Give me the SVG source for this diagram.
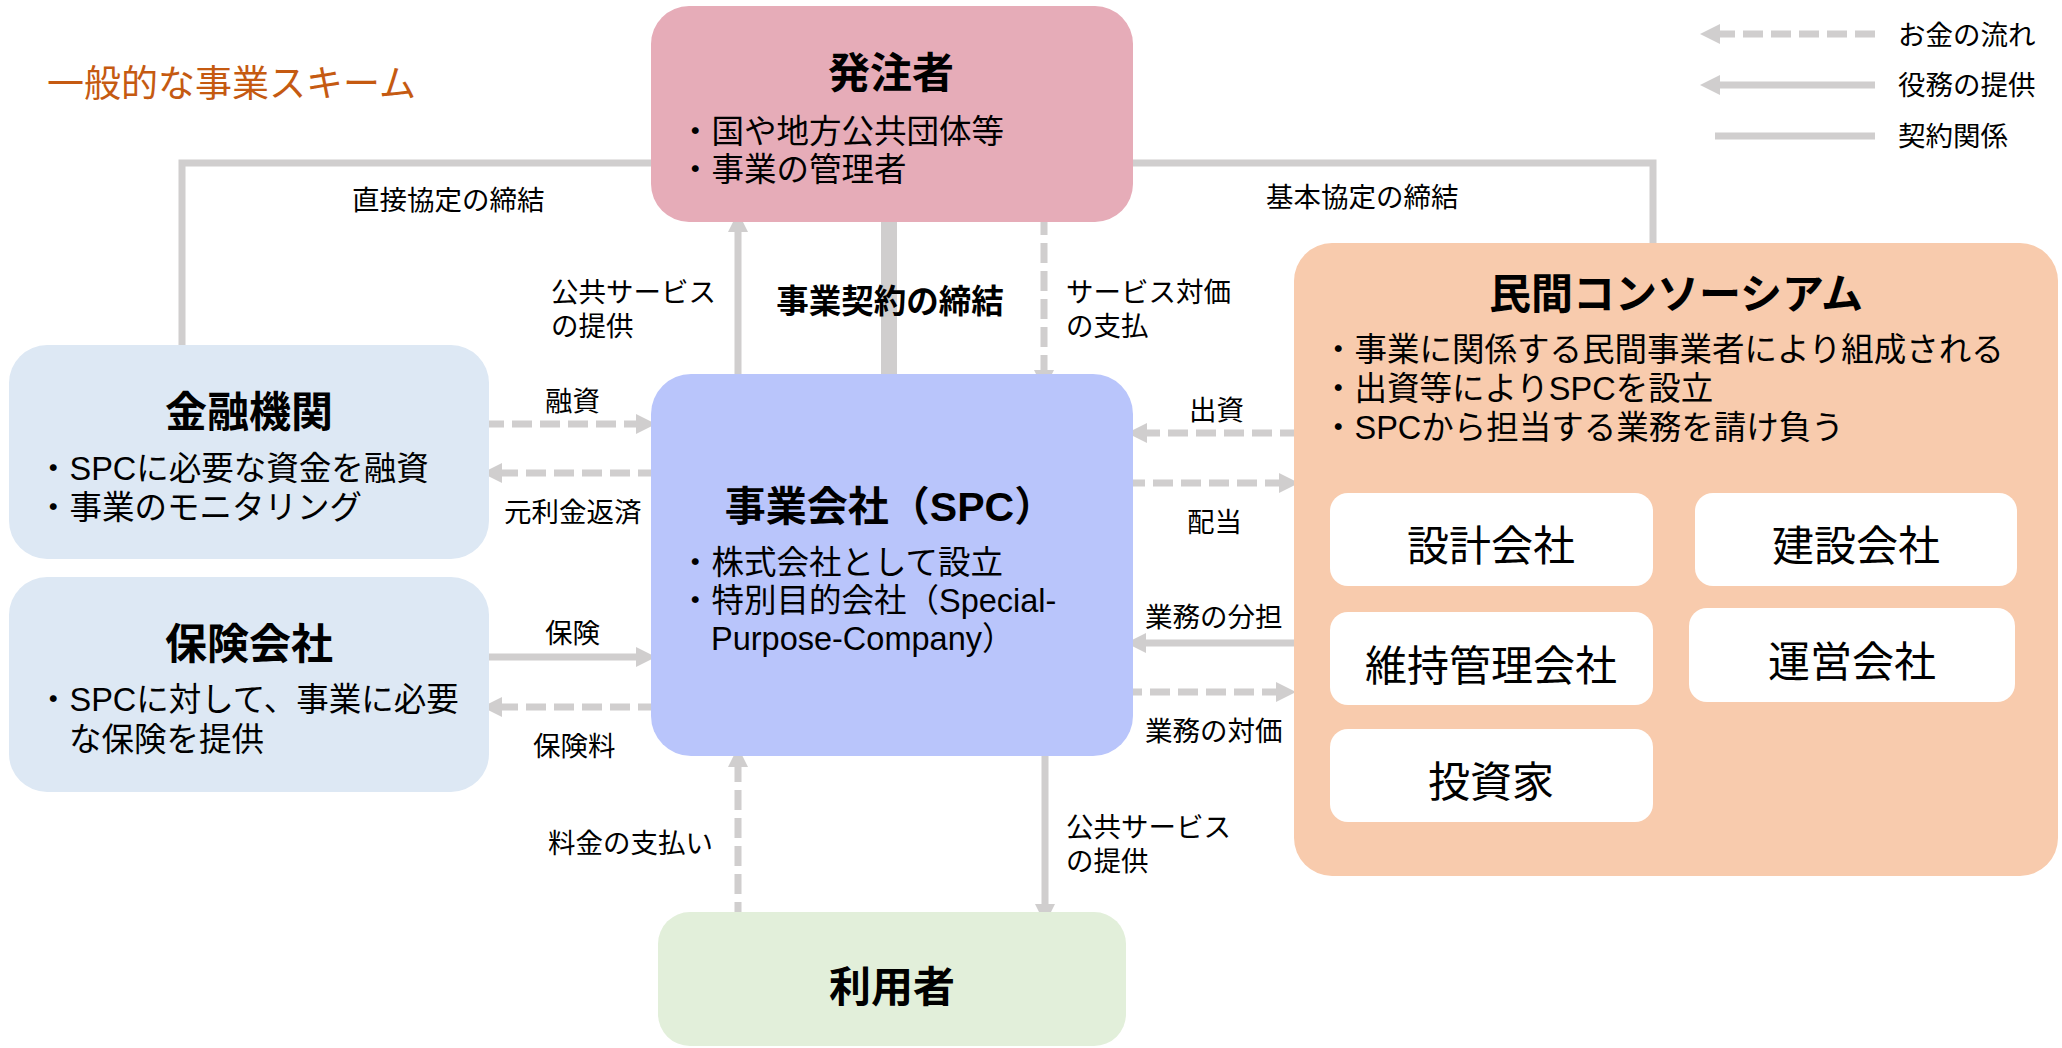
<svg xmlns="http://www.w3.org/2000/svg" width="2062" height="1048" viewBox="0 0 2062 1048">
<style>
text{font-family:"Liberation Sans","Noto Sans CJK JP",sans-serif;fill:#000}
.lbl{font-size:27.5px}
.ttl{font-size:42px;font-weight:bold;text-anchor:middle}
.bul{font-size:32.5px}
.sub{font-size:42px;text-anchor:middle}
.c{fill:none;stroke:#D0CECE;stroke-width:7}
.d{stroke-dasharray:20 8}
.sub-box{fill:#FFFFFF}
</style>
<defs>
<marker id="ah" markerUnits="userSpaceOnUse" markerWidth="20" markerHeight="20" viewBox="0 0 20 20" refX="10" refY="10" orient="auto">
<path d="M0,0 L20,10 L0,20 Z" fill="#D0CECE"/>
</marker>
</defs>
<rect width="2062" height="1048" fill="#FFFFFF"/>

<g id="title"><text x="47" y="97" style="font-size:37px;fill:#C55A11">一般的な事業スキーム</text></g>

<g id="connectors">
<polyline class="c" points="657,163 182,163 182,345"/>
<polyline class="c" points="1122,163 1653,163 1653,247"/>
<line x1="889" y1="212" x2="889" y2="388" stroke="#D0CECE" stroke-width="16"/>
<line class="c" x1="738" y1="388" x2="738" y2="222" marker-end="url(#ah)"/>
<line class="c d" x1="1044" y1="215" x2="1044" y2="380" marker-end="url(#ah)"/>
<line class="c d" x1="484" y1="424" x2="646" y2="424" marker-end="url(#ah)"/>
<line class="c d" x1="658" y1="473" x2="492" y2="473" marker-end="url(#ah)"/>
<line class="c" x1="484" y1="657" x2="646" y2="657" marker-end="url(#ah)"/>
<line class="c d" x1="658" y1="707" x2="492" y2="707" marker-end="url(#ah)"/>
<line class="c d" x1="1300" y1="433" x2="1137" y2="433" marker-end="url(#ah)"/>
<line class="c d" x1="1125" y1="483" x2="1289" y2="483" marker-end="url(#ah)"/>
<line class="c" x1="1300" y1="643" x2="1136" y2="643" marker-end="url(#ah)"/>
<line class="c d" x1="1122" y1="692" x2="1286" y2="692" marker-end="url(#ah)"/>
<line class="c d" x1="738" y1="922" x2="738" y2="757" marker-end="url(#ah)"/>
<line class="c" x1="1045" y1="748" x2="1045" y2="914" marker-end="url(#ah)"/>
</g>

<g id="hacchusha">
<rect x="651" y="6" width="482" height="216" rx="38" fill="#E6ACB8"/>
<text class="ttl" x="891" y="88">発注者</text>
<text class="bul"><tspan x="679" y="143">・国や地方公共団体等</tspan><tspan x="679" y="181">・事業の管理者</tspan></text>
</g>

<g id="spc">
<rect x="651" y="374" width="482" height="382" rx="40" fill="#B9C5FB"/>
<text class="ttl" x="890" y="521" style="font-size:41px">事業会社（SPC）</text>
<text class="bul"><tspan x="679" y="574">・株式会社として設立</tspan><tspan x="679" y="612">・特別目的会社（Special-</tspan><tspan x="711" y="650">Purpose-Company）</tspan></text>
</g>

<g id="kinyu">
<rect x="9" y="345" width="480" height="214" rx="38" fill="#DDE8F4"/>
<text class="ttl" x="249" y="427">金融機関</text>
<text class="bul"><tspan x="37" y="480">・SPCに必要な資金を融資</tspan><tspan x="37" y="519">・事業のモニタリング</tspan></text>
</g>

<g id="hoken">
<rect x="9" y="577" width="480" height="215" rx="38" fill="#DDE8F4"/>
<text class="ttl" x="249" y="659">保険会社</text>
<text class="bul"><tspan x="37" y="711">・SPCに対して、事業に必要</tspan><tspan x="69" y="751">な保険を提供</tspan></text>
</g>

<g id="minkan">
<rect x="1294" y="243" width="764" height="633" rx="38" fill="#F8CBAD"/>
<text class="ttl" x="1676" y="309">民間コンソーシアム</text>
<text class="bul"><tspan x="1322" y="361">・事業に関係する民間事業者により組成される</tspan><tspan x="1322" y="400">・出資等によりSPCを設立</tspan><tspan x="1322" y="439">・SPCから担当する業務を請け負う</tspan></text>
</g>
<g id="sekkei"><rect class="sub-box" x="1330" y="493" width="323" height="93" rx="18"/><text class="sub" x="1491" y="561">設計会社</text></g>
<g id="kensetsu"><rect class="sub-box" x="1695" y="493" width="322" height="93" rx="18"/><text class="sub" x="1856" y="561">建設会社</text></g>
<g id="ijikanri"><rect class="sub-box" x="1330" y="612" width="323" height="93" rx="18"/><text class="sub" x="1491" y="681">維持管理会社</text></g>
<g id="unei"><rect class="sub-box" x="1689" y="608" width="326" height="94" rx="18"/><text class="sub" x="1852" y="677">運営会社</text></g>
<g id="toshika"><rect class="sub-box" x="1330" y="729" width="323" height="93" rx="18"/><text class="sub" x="1491" y="797">投資家</text></g>

<g id="riyosha">
<rect x="658" y="912" width="468" height="134" rx="32" fill="#E2EFDA"/>
<text class="ttl" x="892" y="1002">利用者</text>
</g>

<g id="labels">
<text class="lbl" x="352" y="210">直接協定の締結</text>
<text class="lbl" x="1266" y="207">基本協定の締結</text>
<text class="lbl"><tspan x="551" y="302">公共サービス</tspan><tspan x="551" y="336">の提供</tspan></text>
<text x="890" y="313" style="font-size:32.5px;font-weight:bold;text-anchor:middle">事業契約の締結</text>
<text class="lbl"><tspan x="1066" y="302">サービス対価</tspan><tspan x="1066" y="336">の支払</tspan></text>
<text class="lbl" x="545" y="411">融資</text>
<text class="lbl" x="504" y="522">元利金返済</text>
<text class="lbl" x="545" y="643">保険</text>
<text class="lbl" x="533" y="756">保険料</text>
<text class="lbl" x="1189" y="420">出資</text>
<text class="lbl" x="1187" y="532">配当</text>
<text class="lbl" x="1145" y="627">業務の分担</text>
<text class="lbl" x="1145" y="741">業務の対価</text>
<text class="lbl" x="548" y="853">料金の支払い</text>
<text class="lbl"><tspan x="1066" y="837">公共サービス</tspan><tspan x="1066" y="871">の提供</tspan></text>
</g>

<g id="legend">
<line class="c d" x1="1875" y1="34" x2="1710" y2="34" marker-end="url(#ah)"/>
<line class="c" x1="1875" y1="85" x2="1710" y2="85" marker-end="url(#ah)"/>
<line class="c" x1="1715" y1="136" x2="1875" y2="136"/>
<text class="lbl" x="1898" y="45">お金の流れ</text>
<text class="lbl" x="1898" y="95">役務の提供</text>
<text class="lbl" x="1898" y="146">契約関係</text>
</g>
</svg>
